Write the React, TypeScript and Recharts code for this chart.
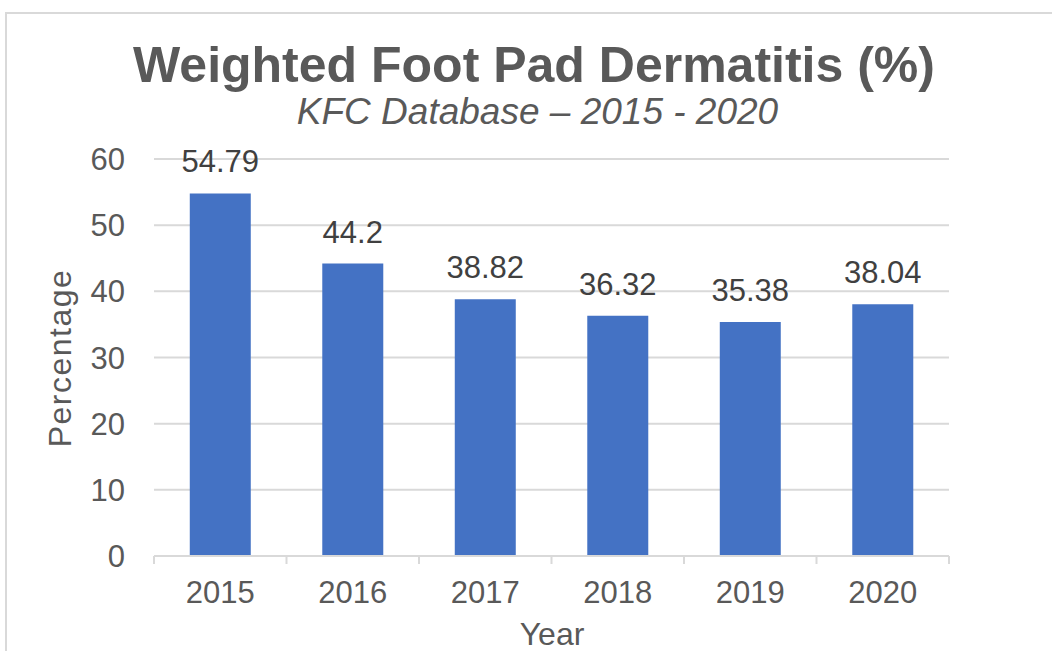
import React from 'react';
import { BarChart, Bar, XAxis, YAxis, CartesianGrid, LabelList } from 'recharts';

const years = ['2015', '2016', '2017', '2018', '2019', '2020'];
const fpdValues = [54.79, 44.2, 38.82, 36.32, 35.38, 38.04];
const yTicks = [0, 10, 20, 30, 40, 50, 60];

const FONT = '"Liberation Sans", Arial, sans-serif';
const TEXT = '#595959';
const GRID = '#d9d9d9';
const BAR = '#4472c4';

const data = years.map((year, i) => ({ year, value: fpdValues[i] }));

const YearTick = (props: Record<string, any>) => {
  const { x, y, payload, index, width, visibleTicksCount } = props;
  const half = payload?.offset || width / visibleTicksCount / 2;
  const axisY = y - 25;
  return (
    <g>
      <line x1={x - half} x2={x - half} y1={axisY} y2={axisY + 8} stroke={GRID} strokeWidth={2} />
      {index === visibleTicksCount - 1 && (
        <line x1={x + half} x2={x + half} y1={axisY} y2={axisY + 8} stroke={GRID} strokeWidth={2} />
      )}
      <text x={x} y={y} dy="0.71em" textAnchor="middle" fill={TEXT} fontSize={31} fontFamily={FONT}>
        {payload.value}
      </text>
    </g>
  );
};

export default function App() {
  return (
    <div style={{ position: 'absolute', left: 0, top: 0, width: 1052, height: 651, overflow: 'hidden', background: '#fff', fontFamily: FONT }}>
      <div style={{ position: 'absolute', left: 5, top: 12, width: 1200, height: 800, borderTop: `2px solid ${GRID}`, borderLeft: `2px solid ${GRID}` }} />
      <div style={{ position: 'absolute', left: 0, width: 1068, top: 40, textAlign: 'center', fontSize: 50, lineHeight: 1, fontWeight: 'bold', color: TEXT, whiteSpace: 'nowrap' }}>
        Weighted Foot Pad Dermatitis (%)
      </div>
      <div style={{ position: 'absolute', left: 0, width: 1075, top: 93, textAlign: 'center', fontSize: 37, lineHeight: 1, fontStyle: 'italic', color: TEXT, whiteSpace: 'nowrap' }}>
        KFC Database – 2015 - 2020
      </div>
      <BarChart
        width={1052}
        height={651}
        data={data}
        margin={{ top: 159, right: 103, bottom: 65, left: 0 }}
        barCategoryGap="27%"
        style={{ position: 'absolute', left: 0, top: 0 }}
      >
        <CartesianGrid vertical={false} stroke={GRID} strokeWidth={2} />
        <YAxis
          width={154}
          domain={[0, 60]}
          ticks={yTicks}
          interval={0}
          axisLine={false}
          tickLine={false}
          tickSize={0}
          tickMargin={29}
          tick={{ fill: TEXT, fontSize: 31, fontFamily: FONT }}
        />
        <XAxis
          dataKey="year"
          height={30}
          interval={0}
          axisLine={{ stroke: GRID, strokeWidth: 2 }}
          tickLine={false}
          tickSize={0}
          tickMargin={25}
          tick={<YearTick />}
        />
        <Bar dataKey="value" fill={BAR} isAnimationActive={false}>
          <LabelList dataKey="value" position="top" offset={21} fill="#404040" fontSize={31} fontFamily={FONT} />
        </Bar>
      </BarChart>
      <div style={{ position: 'absolute', left: 60, top: 358, transform: 'translate(-50%, -50%) rotate(-90deg)', fontSize: 32, lineHeight: 1, color: TEXT, whiteSpace: 'nowrap', letterSpacing: 1.5 }}>
        Percentage
      </div>
      <div style={{ position: 'absolute', left: 452, width: 200, top: 618, textAlign: 'center', fontSize: 32, lineHeight: 1, color: TEXT }}>
        Year
      </div>
    </div>
  );
}
